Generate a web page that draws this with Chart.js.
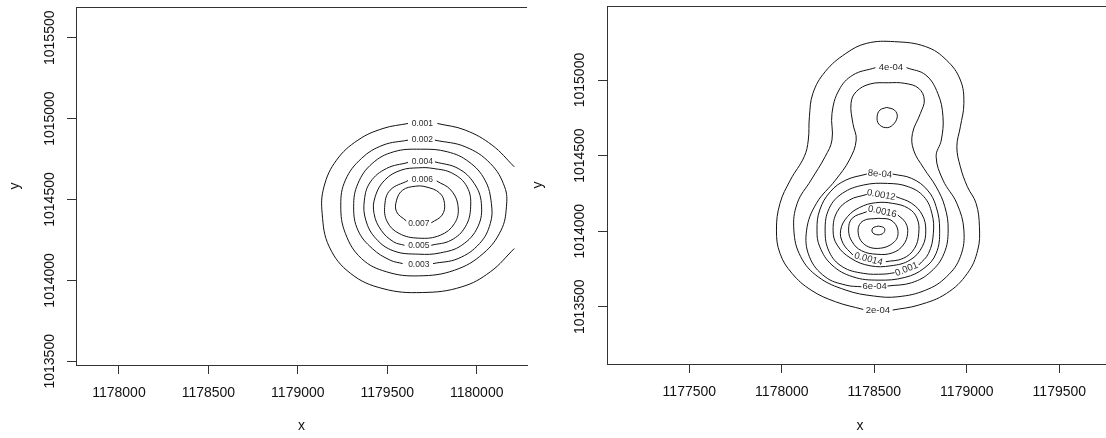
<!DOCTYPE html>
<html><head><meta charset="utf-8">
<script src="https://cdn.jsdelivr.net/npm/chart.js@4.4.1/dist/chart.umd.min.js"></script>
<style>
html,body{margin:0;padding:0;background:#fff;overflow:hidden;width:1106px;height:438px;position:relative}
#wrapL{position:absolute;left:0;top:0;width:528px;height:438px}
#wrapR{position:absolute;left:524px;top:0;width:590px;height:438px}
canvas{display:block}
</style></head><body>
<div id="wrapL"><canvas id="cL" width="528" height="438"></canvas></div>
<div id="wrapR"><canvas id="cR" width="590" height="438"></canvas></div>
<script>
// ---------- LEFT PLOT DATA ----------
const leftXTicks = [1178000, 1178500, 1179000, 1179500, 1180000];
const leftYTicks = [1013500, 1014000, 1014500, 1015000, 1015500];
const leftXRange = [1177760, 1180281];
const leftYRange = [1013477, 1015690];
// contour 0.001 (cut at grid edge, gap for label)
const L001a = [[1180210,1014197],[1180076,1014053],[1179916,1013960],[1179696,1013925],[1179476,1013949],[1179296,1014042],[1179176,1014207],[1179136,1014413],[1179146,1014578],[1179216,1014743],[1179336,1014867],[1179476,1014939],[1179616,1014970]];
const L001b = [[1179780,1014970],[1179936,1014929],[1180086,1014836],[1180210,1014702]];
const L002 = [[1179766,1014867],[1179936,1014826],[1180076,1014723],[1180156,1014578],[1180166,1014455],[1180136,1014310],[1180036,1014166],[1179876,1014063],[1179676,1014028],[1179496,1014053],[1179356,1014135],[1179266,1014290],[1179240,1014465],[1179266,1014620],[1179356,1014754],[1179476,1014836],[1179616,1014867]];
const L003 = [[1179756,1014104],[1179896,1014135],[1180016,1014228],[1180076,1014352],[1180082,1014475],[1180046,1014620],[1179956,1014733],[1179836,1014795],[1179686,1014811],[1179536,1014795],[1179416,1014723],[1179336,1014599],[1179312,1014455],[1179336,1014310],[1179416,1014197],[1179516,1014125],[1179586,1014104]];
const L004 = [[1179766,1014733],[1179896,1014692],[1179986,1014599],[1180026,1014475],[1180006,1014331],[1179916,1014217],[1179796,1014170],[1179676,1014162],[1179536,1014182],[1179436,1014259],[1179380,1014372],[1179372,1014496],[1179406,1014609],[1179496,1014692],[1179616,1014729]];
const L005 = [[1179746,1014217],[1179856,1014248],[1179936,1014331],[1179966,1014455],[1179946,1014578],[1179866,1014661],[1179756,1014692],[1179676,1014696],[1179576,1014681],[1179486,1014620],[1179432,1014516],[1179426,1014413],[1179466,1014310],[1179536,1014238],[1179596,1014217]];
const L006 = [[1179776,1014615],[1179856,1014558],[1179896,1014455],[1179876,1014352],[1179796,1014279],[1179676,1014261],[1179566,1014290],[1179500,1014362],[1179486,1014465],[1179516,1014558],[1179616,1014617]];
const L007 = [[1179746,1014356],[1179806,1014403],[1179820,1014475],[1179792,1014541],[1179716,1014578],[1179656,1014582],[1179586,1014558],[1179552,1014496],[1179552,1014424],[1179606,1014368]];
const leftLabels = ['0.001','0.002','0.004','0.006','0.007','0.005','0.003'];
const leftLabelX = [1179696,1179696,1179696,1179696,1179676,1179676,1179676];
const leftLabelY = [1014966,1014867,1014733,1014620,1014352,1014213,1014098];

// ---------- RIGHT PLOT DATA ----------
const rightXTicks = [1177500, 1178000, 1178500, 1179000, 1179500];
const rightYTicks = [1013500, 1014000, 1014500, 1015000];
const rightXRange = [1177055, 1179790];
const rightYRange = [1013121, 1015490];
const R2e4 = [[1178599,1013478],[1178740,1013511],[1178890,1013588],[1179003,1013721],[1179059,1013875],[1179068,1014029],[1179050,1014184],[1179003,1014294],[1178965,1014426],[1178946,1014559],[1178965,1014691],[1178984,1014846],[1178965,1015000],[1178890,1015132],[1178778,1015221],[1178609,1015254],[1178459,1015243],[1178346,1015176],[1178234,1015055],[1178168,1014912],[1178149,1014757],[1178143,1014603],[1178121,1014493],[1178046,1014338],[1177990,1014184],[1177971,1014007],[1177990,1013853],[1178055,1013721],[1178158,1013610],[1178290,1013533],[1178440,1013482]];
const R4e4 = [[1178674,1015082],[1178778,1015033],[1178843,1014912],[1178871,1014757],[1178862,1014603],[1178834,1014493],[1178871,1014338],[1178946,1014184],[1178984,1014007],[1178965,1013831],[1178890,1013698],[1178778,1013610],[1178627,1013566],[1178496,1013571],[1178346,1013610],[1178196,1013698],[1178102,1013831],[1178065,1014007],[1178083,1014184],[1178158,1014338],[1178234,1014493],[1178271,1014603],[1178271,1014779],[1178309,1014934],[1178384,1015033],[1178506,1015082]];
const R6e4 = [[1178571,1013637],[1178702,1013659],[1178806,1013732],[1178877,1013853],[1178899,1014007],[1178881,1014162],[1178834,1014294],[1178768,1014415],[1178712,1014537],[1178706,1014647],[1178749,1014779],[1178770,1014868],[1178740,1014945],[1178665,1014978],[1178575,1014982],[1178477,1014974],[1178402,1014923],[1178374,1014846],[1178384,1014713],[1178402,1014603],[1178365,1014471],[1178290,1014338],[1178187,1014184],[1178134,1014007],[1178149,1013831],[1178234,1013698],[1178346,1013643],[1178430,1013632]];
const R8e4up = [[1178567,1014819],[1178609,1014801],[1178624,1014757],[1178599,1014702],[1178562,1014685],[1178524,1014709],[1178515,1014757],[1178530,1014801],[1178567,1014819]];
const R8e4 = [[1178599,1014378],[1178702,1014349],[1178787,1014272],[1178834,1014162],[1178853,1014007],[1178834,1013853],[1178768,1013754],[1178665,1013694],[1178521,1013676],[1178384,1013698],[1178271,1013776],[1178205,1013897],[1178190,1014007],[1178205,1014140],[1178262,1014261],[1178346,1014338],[1178459,1014378]];
const R0010 = [[1178740,1013776],[1178793,1013853],[1178819,1013985],[1178811,1014118],[1178768,1014228],[1178684,1014294],[1178571,1014316],[1178440,1014305],[1178327,1014250],[1178256,1014151],[1178234,1014007],[1178256,1013864],[1178327,1013765],[1178440,1013721],[1178552,1013716],[1178609,1013725]];
const R0012 = [[1178618,1014228],[1178702,1014184],[1178759,1014107],[1178778,1014007],[1178759,1013897],[1178693,1013809],[1178590,1013771],[1178477,1013771],[1178374,1013820],[1178299,1013908],[1178277,1014007],[1178299,1014129],[1178365,1014206],[1178459,1014243]];
const R0014 = [[1178562,1013798],[1178656,1013820],[1178717,1013886],[1178740,1013985],[1178731,1014085],[1178684,1014151],[1178599,1014184],[1178506,1014188],[1178421,1014157],[1178355,1014096],[1178318,1014007],[1178331,1013919],[1178384,1013842]];
const R0016 = [[1178627,1014107],[1178669,1014056],[1178680,1013985],[1178656,1013908],[1178599,1013857],[1178515,1013847],[1178430,1013871],[1178380,1013930],[1178361,1014007],[1178380,1014085],[1178459,1014129]];
const R0018 = [[1178521,1014085],[1178590,1014073],[1178627,1014007],[1178609,1013930],[1178521,1013886],[1178440,1013919],[1178412,1014007],[1178440,1014069],[1178521,1014085]];
const R0020 = [[1178521,1014034],[1178552,1014023],[1178556,1014003],[1178543,1013982],[1178511,1013977],[1178489,1013994],[1178492,1014021],[1178521,1014034]];
const rightLabels = ['2e-04','4e-04','6e-04','8e-04','0.0012','0.0016','0.0014','0.001'];
const rightLabelX = [1178519,1178590,1178502,1178530,1178537,1178543,1178468,1178674];
const rightLabelY = [1013478,1015082,1013637,1014378,1014239,1014129,1013815,1013747];

// ---------- STYLE ----------
const FONT = '"Liberation Sans", Arial, sans-serif';
const TXT = '#111';
const BOX = '#333';
const LINE = '#111';
const rightLabelAngles = [0, 0, 0, 6, 10, 12, 15, -22];

const rplot = {
  id: 'rplot',
  afterDraw(chart, args, o) {
    const {ctx, chartArea: a, scales} = chart;
    const xs = scales.x, ys = scales.y;
    ctx.save();
    // top border of box
    ctx.strokeStyle = BOX; ctx.lineWidth = 1;
    const ty = Math.round(a.top) + 0.5;
    ctx.beginPath(); ctx.moveTo(Math.round(a.left), ty); ctx.lineTo(a.right, ty); ctx.stroke();
    // rotated y tick labels
    ctx.fillStyle = TXT;
    ctx.font = '14px ' + FONT;
    ctx.textAlign = 'center'; ctx.textBaseline = 'middle';
    o.yTicks.forEach(v => {
      const py = ys.getPixelForValue(v);
      ctx.save(); ctx.translate(a.left - o.yOff, py); ctx.rotate(-Math.PI / 2);
      ctx.fillText(String(v), 0, 0); ctx.restore();
    });
    // contour labels
    ctx.fillStyle = '#2a2a2a';
    ctx.font = o.labelSize + 'px ' + FONT;
    o.labels.forEach((t, i) => {
      const px = xs.getPixelForValue(o.lx[i]), py = ys.getPixelForValue(o.ly[i]);
      ctx.save(); ctx.translate(px, py); ctx.rotate((o.angles[i] || 0) * Math.PI / 180);
      ctx.fillText(t, 0, 0); ctx.restore();
    });
    ctx.restore();
  }
};

function mkChart(id, c) {
  const datasets = c.lines.map(pts => ({
    data: pts.map(p => ({x: p[0], y: p[1]})),
    showLine: true, pointRadius: 0, pointHoverRadius: 0, borderColor: LINE,
    borderWidth: 1, tension: 0.4, fill: false
  }));
  return new Chart(document.getElementById(id), {
    type: 'scatter',
    data: {datasets},
    options: {
      responsive: false, animation: false, devicePixelRatio: 1,
      layout: {padding: c.pad},
      plugins: {
        legend: {display: false}, tooltip: {enabled: false},
        rplot: {yTicks: c.yt, yOff: c.yOff, labels: c.labels, lx: c.lx, ly: c.ly, angles: c.angles, labelSize: c.labelSize}
      },
      scales: {
        x: {
          type: 'linear', min: c.xr[0], max: c.xr[1],
          afterBuildTicks: s => { s.ticks = c.xt.map(v => ({value: v})); },
          afterFit: s => { s.height = c.xh; },
          ticks: {autoSkip: false, maxRotation: 0, minRotation: 0, padding: 11,
                  font: {family: FONT, size: 14}, color: TXT, callback: v => String(v)},
          grid: {display: true, drawOnChartArea: false, drawTicks: true, tickLength: 9, color: BOX, lineWidth: 1},
          border: {display: true, color: BOX, width: 1},
          title: {display: true, text: 'x', font: {family: FONT, size: 14}, color: TXT, padding: {top: 0, bottom: 3}}
        },
        y: {
          type: 'linear', min: c.yr[0], max: c.yr[1],
          afterBuildTicks: s => { s.ticks = c.yt.map(v => ({value: v})); },
          afterFit: s => { s.width = c.yw; },
          ticks: {display: false},
          grid: {display: true, drawOnChartArea: false, drawTicks: true, tickLength: 9, color: BOX, lineWidth: 1},
          border: {display: true, color: BOX, width: 1},
          title: {display: true, text: 'y', font: {family: FONT, size: 14}, color: TXT, padding: {top: c.yTitlePad, bottom: 0}}
        }
      }
    },
    plugins: [rplot]
  });
}

mkChart('cL', {
  lines: [L001a, L001b, L002, L003, L004, L005, L006, L007],
  xt: leftXTicks, yt: leftYTicks, xr: leftXRange, yr: leftYRange,
  pad: {left: 0, right: 1, top: 7, bottom: 0}, xh: 73, yw: 76, yOff: 26, yTitlePad: 7,
  labels: leftLabels, lx: leftLabelX, ly: leftLabelY, angles: [], labelSize: 8.5
});
mkChart('cR', {
  lines: [R2e4, R4e4, R6e4, R8e4up, R8e4, R0010, R0012, R0014, R0016, R0018, R0020],
  xt: rightXTicks, yt: rightYTicks, xr: rightXRange, yr: rightYRange,
  pad: {left: 0, right: 1, top: 6, bottom: 0}, xh: 74, yw: 83, yOff: 27, yTitlePad: 6,
  labels: rightLabels, lx: rightLabelX, ly: rightLabelY, angles: rightLabelAngles, labelSize: 9.5
});
</script>
</body></html>
